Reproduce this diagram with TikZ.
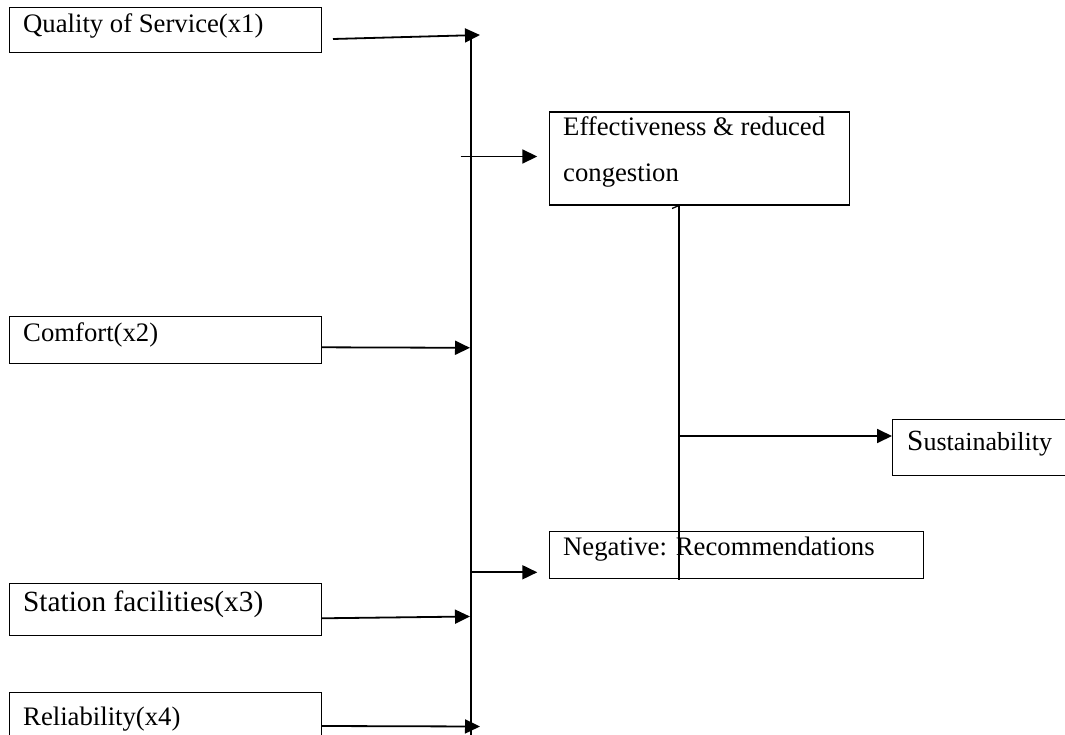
\documentclass[tikz,border=0pt]{standalone}
\usepackage{fontspec}
\setmainfont{Liberation Serif}
\usetikzlibrary{arrows.meta}
\begin{document}
\begin{tikzpicture}[x=1pt,y=-1pt,
  box/.style={draw=black, line width=1.1pt, rectangle, inner sep=0pt, anchor=north west},
  txt/.style={inner sep=0pt, anchor=base west, font=\fontsize{26.7}{32}\selectfont},
  bigtxt/.style={inner sep=0pt, anchor=base west, font=\fontsize{29.3}{34}\selectfont},
  conn/.style={line width=1.8pt},
  arr/.style={conn, -{Triangle[length=15pt,width=14pt]}}]
\useasboundingbox (0,0) rectangle (1065,735);
% boxes
\node[box, minimum width=312pt, minimum height=45pt] (q) at (9,7) {};
\node[txt] (qt) at (23,33) {Quality of Service(x1)};
\node[box, minimum width=312pt, minimum height=47pt] (c) at (9,316) {};
\node[txt] (ct) at (23,341.5) {Comfort(x2)};
\node[box, minimum width=312pt, minimum height=52pt] (s) at (9,583) {};
\node[bigtxt] (st) at (23,611.5) {Station facilities(x3)};
\node[box, minimum width=312pt, minimum height=60pt] (r) at (9,691.5) {};
\node[txt] (rt) at (23,725.5) {Reliability(x4)};
\node[box, minimum width=300pt, minimum height=93pt] (e) at (549,111.5) {};
\node[txt] (et1) at (563,136) {Effectiveness \& reduced};
\node[txt] (et2) at (563,181.5) {congestion};
\node[box, minimum width=374pt, minimum height=47pt] (n) at (549,530.5) {};
\node[txt] (nt) at (563,555) {Negative: Recommendations};
\node[box, minimum width=190pt, minimum height=56pt] (su) at (892.3,419) {};
\node[inner sep=0pt, anchor=base west] (sut) at (907,450)
  {{\fontsize{29.3}{34}\selectfont S}{\fontsize{26}{32}\selectfont ustainability}};
% coordinates
\coordinate (q1) at (333,39);
\coordinate (q2) at (480,35);
\coordinate (vt) at (471,35);
\coordinate (vb) at (471,740);
\coordinate (c1) at (321.5,347.3);
\coordinate (c2) at (470,347.8);
\coordinate (s1) at (321.5,618.3);
\coordinate (s2) at (470,616.5);
\coordinate (r1) at (321.5,726);
\coordinate (r2) at (480,726.5);
\coordinate (e1) at (460.7,156.5);
\coordinate (e2) at (537.3,156.5);
\coordinate (n1) at (471,572.3);
\coordinate (n2) at (537.3,572.3);
\coordinate (m1) at (679,205.5);
\coordinate (m2) at (679,580);
\coordinate (h1) at (672,208.5);
\coordinate (su1) at (679,436);
\coordinate (su2) at (892,436);
% connectors
\draw[conn] (vt) -- (vb);
\draw[arr] (q1) -- (q2);
\draw[arr] (c1) -- (c2);
\draw[arr] (s1) -- (s2);
\draw[arr] (r1) -- (r2);
\draw[arr] (e1) -- (e2);
\draw[arr] (n1) -- (n2);
\draw[conn] (m1) -- (m2);
\draw[line width=1.3pt] (h1) -- (m1);
\draw[arr] (su1) -- (su2);
\end{tikzpicture}
\end{document}
